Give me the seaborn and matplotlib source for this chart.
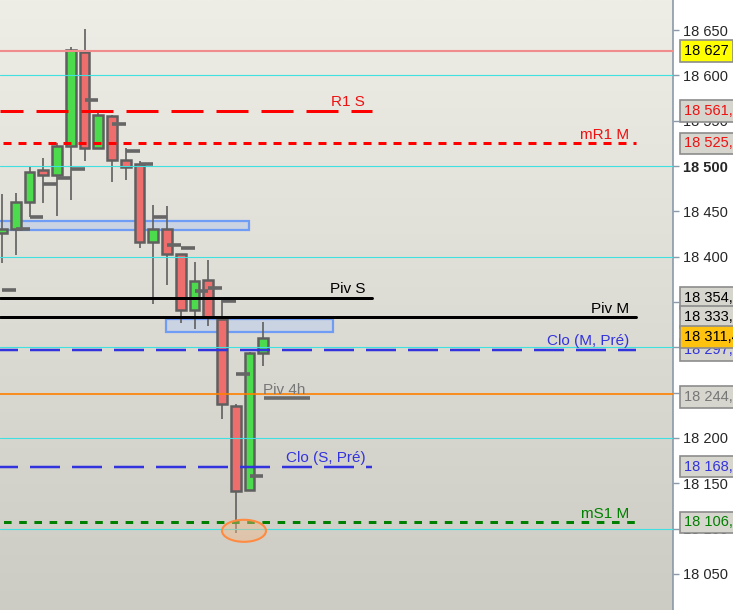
import numpy as np
import matplotlib
matplotlib.use("Agg")
import matplotlib.pyplot as plt
import seaborn as sns
from matplotlib import transforms
from matplotlib.colors import LinearSegmentedColormap
from matplotlib.patches import Ellipse, Rectangle

# candles (4h bars)
opens  = [18426, 18431, 18460, 18496, 18490, 18522, 18626, 18520, 18555, 18507,
          18502, 18416, 18431, 18403, 18341, 18374, 18331, 18235, 18142, 18294]
highs  = [18469, 18470, 18500, 18509, 18526, 18631, 18651, 18562, 18556, 18520,
          18506, 18457, 18456, 18403, 18394, 18396, 18352, 18237, 18295, 18328]
lows   = [18393, 18402, 18444, 18459, 18445, 18463, 18506, 18520, 18482, 18485,
          18410, 18348, 18369, 18327, 18320, 18324, 18221, 18095, 18142, 18279]
closes = [18431, 18460, 18493, 18490, 18522, 18628, 18520, 18556, 18507, 18499,
          18416, 18431, 18403, 18341, 18373, 18333, 18237, 18141, 18294, 18310]
# small grey marks to the right of each bar
marks  = [18363, 18431, 18444, 18480, 18487, 18497, 18573, np.nan, 18546, 18517,
          18502, 18444, 18413, 18410, 18362, 18365, 18351, 18270, 18158, np.nan]

# horizontal levels
level_names  = ["R1 S", "mR1 M", "Piv S", "Piv M", "Clo (M, Pré)", "Clo (S, Pré)", "mS1 M"]
level_values = [18561.2, 18525.0, 18354.7, 18333.2, 18297.4, 18168.4, 18106.7]
high_line = 18627.4
piv4h_orange = 18248.0
piv4h_value = 18244.0

# zones (bottom, top)
zone1 = (18429.5, 18439.4)
zone2 = (18317.2, 18331.2)

# price boxes on the scale
box_values = [18627.4, 18561.2, 18525.0, 18354.7, 18333.2, 18311.4, 18297.4, 18244.7, 18168.4, 18106.7]
box_texts  = ["18 627", "18 561,2", "18 525,0", "18 354,7", "18 333,2", "18 311,4",
              "18 297,4", "18 244,7", "18 168,4", "18 106,7"]

yticks = list(range(18050, 18651, 50))

sns.set_style("white")
plt.rcParams['font.family'] = ['Liberation Sans', 'DejaVu Sans']
plt.rcParams['lines.scale_dashes'] = False

W, H = 733, 610
fig = plt.figure(figsize=(W / 100, H / 100), dpi=100)
ax = fig.add_axes([0, 0, 673 / W, 1])

PXU = 13.75          # pixels per bar
def ux(px):
    return (px - 2) / PXU

x0, x1 = ux(0), ux(673)
y0, y1 = 18010.1, 18683.3

# background gradient
bg = LinearSegmentedColormap.from_list("bg", ["#cdccc4", "#eeede6"])
ax.imshow(np.linspace(0, 1, 256).reshape(-1, 1), cmap=bg, origin="lower",
          extent=[x0, x1, y0, y1], aspect="auto", zorder=0)

# grid (cyan)
for g in range(18100, 18700, 100):
    ax.axhline(g, color="#3fe0e0", lw=0.8, zorder=7)

# zones
ax.add_patch(Rectangle((x0 - 1, zone1[0]), ux(249) - x0 + 1, zone1[1] - zone1[0],
                       fc="#c9d3e2", ec="#6f9cf4", lw=1.6, zorder=2))
ax.add_patch(Rectangle((ux(166), zone2[0]), ux(333) - ux(166), zone2[1] - zone2[0],
                       fc="#c9d3e2", ec="#6f9cf4", lw=1.6, zorder=2))

# candles
idx = np.arange(len(opens))
o = np.array(opens, float)
c = np.array(closes, float)
up = c >= o
ax.vlines(idx, lows, highs, color="#5f5f5f", lw=1.2, zorder=3)
ax.bar(idx, np.abs(c - o), bottom=np.minimum(o, c), width=0.72,
       color=np.where(up, "#4cdb4c", "#ee6e6e"), edgecolor="#5f5f5f",
       linewidth=1.8, zorder=4)
ax.hlines(marks, idx, idx + 1.0, color="#666666", lw=2.6, zorder=4.5)

# piv 4h
ax.axhline(piv4h_orange, color="#ff8000", lw=1.2, zorder=6)
ax.hlines(piv4h_value, ux(264), ux(310), color="#6a6a6a", lw=2.6, zorder=6)
ax.text(ux(263), piv4h_value + 5, "Piv 4h", color="#777777", fontsize=11,
        ha="left", va="baseline", zorder=8)

# high line
ax.axhline(high_line, color="#f08c8c", lw=1.5, zorder=6)

# level lines: end (px), colour, width (px), dash (offset px, on px, off px)
styles = [
    (372, "#ff0000", 3.0, (9, 32, 13)),
    (636, "#ff0000", 3.0, (12, 8, 7)),
    (372, "#000000", 3.0, None),
    (636, "#000000", 3.0, None),
    (636, "#3333dd", 2.5, (12, 30, 12)),
    (372, "#3333dd", 2.5, (12, 30, 12)),
    (636, "#008000", 3.0, (11.7, 7.6, 7.6)),
]
text_cols = ["#ee1111", "#ee1111", "#000000", "#000000", "#3333dd", "#3333dd", "#008000"]
for name, val, (xe, col, lw, dash), tc in zip(level_names, level_values, styles, text_cols):
    sns.lineplot(x=[x0, ux(xe)], y=[val, val], color=col, lw=lw * 0.72, ax=ax, zorder=6)
    line = ax.lines[-1]
    if dash:
        off, on, gap = dash
        line.set_linestyle((off * 0.72, (on * 0.72, gap * 0.72)))
    ax.text(ux(xe) - 0.5, val + 4.8, name, color=tc, fontsize=11,
            ha="right", va="baseline", zorder=8)

# low marker
ax.add_patch(Ellipse((ux(244), 18097.5), 44 / PXU, 24.3, fc=(0.95, 0.72, 0.55, 0.45),
                     ec="#ff8a40", lw=1.5, zorder=8))

# price scale on the right
ax.yaxis.tick_right()
ax.set_yticks(yticks)
ax.set_yticklabels([f"{v // 1000} {v % 1000:03d}" for v in yticks])
ax.tick_params(axis="y", length=4, width=1, color="#8a9aaa", pad=3, labelsize=10.5)
ax.set_xticks([])
for s in ["left", "top", "bottom"]:
    ax.spines[s].set_visible(False)
ax.spines["right"].set_color("#8a9aaa")
ax.spines["right"].set_linewidth(1.2)
for lab in ax.get_yticklabels():
    if lab.get_text() == "18 500":
        lab.set_fontweight("bold")

ax.set_xlim(x0, x1)
ax.set_ylim(y0, y1)

# price boxes
blend = transforms.blended_transform_factory(fig.transFigure, ax.transData)
box_fc = ["#ffff00", "#d6d5ce", "#d6d5ce", "#d6d5ce", "#d6d5ce", "#ffc20e",
          "#d6d5ce", "#d6d5ce", "#d6d5ce", "#d6d5ce"]
box_tc = ["#000000", "#ee1111", "#ee1111", "#000000", "#000000", "#000000",
          "#3333dd", "#777777", "#3333dd", "#008000"]
box_z = [10, 10, 10, 10, 10, 12, 11, 10, 10, 10]
for v, t, fc, tc, z in zip(box_values, box_texts, box_fc, box_tc, box_z):
    ax.text(684 / W, v, t, transform=blend, color=tc, fontsize=10.5,
            ha="left", va="center", clip_on=False, zorder=z,
            bbox=dict(boxstyle="square,pad=0.27", fc=fc, ec="#8c8c8c", lw=1.2))

fig.savefig("out.png", dpi=100, facecolor="white")
